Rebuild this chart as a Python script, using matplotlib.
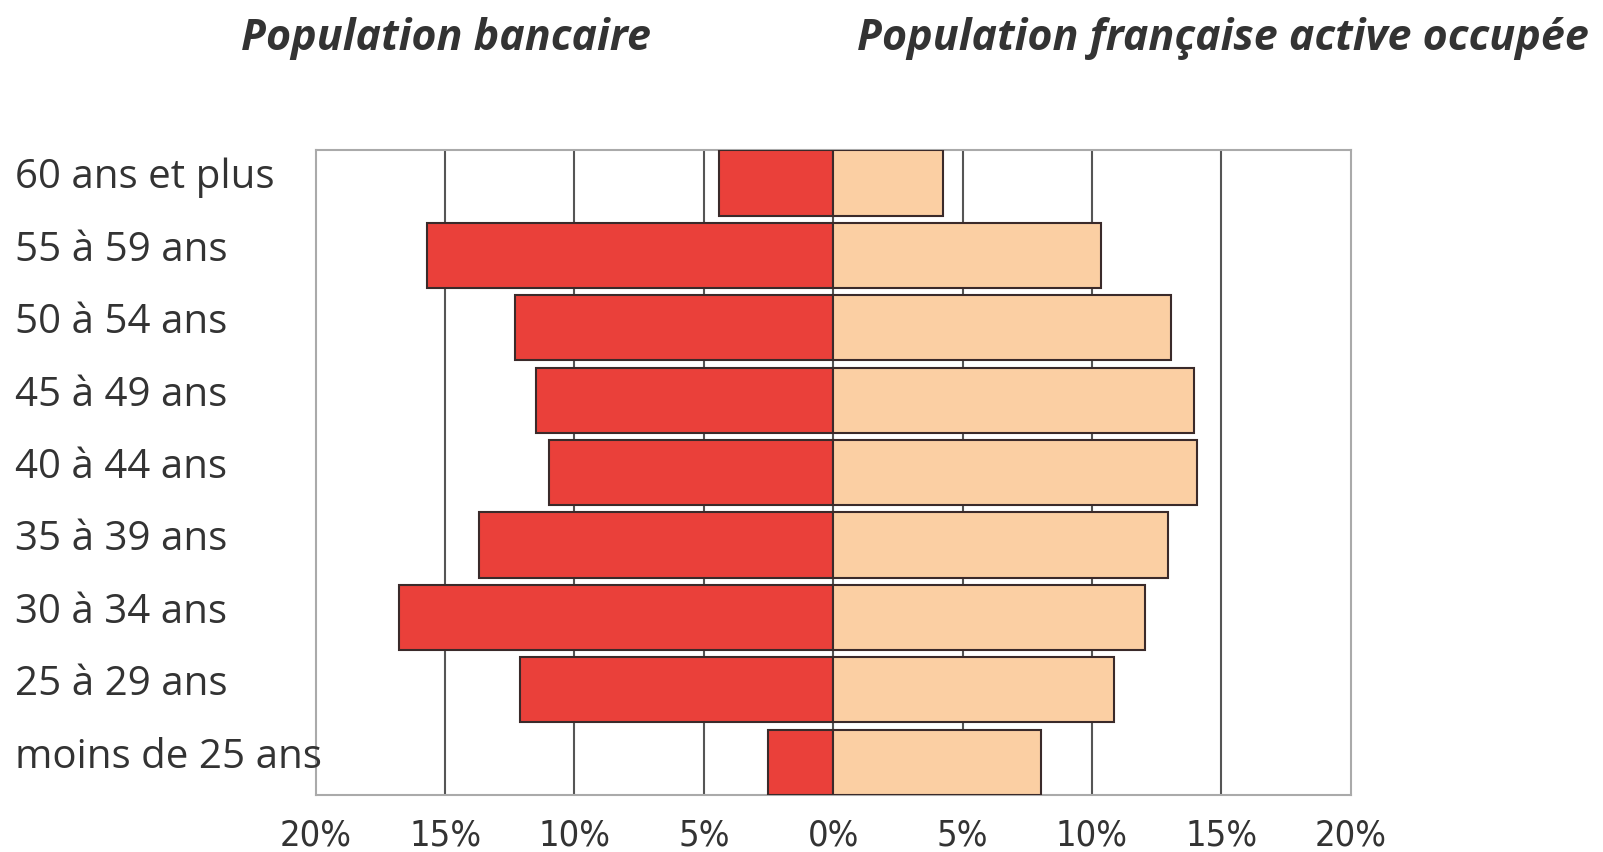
import numpy as np
import matplotlib
matplotlib.use('Agg')
from matplotlib import pyplot as plt
from matplotlib import transforms

# data, bottom to top
ages = ['moins de 25 ans', '25 à 29 ans', '30 à 34 ans', '35 à 39 ans', '40 à 44 ans',
        '45 à 49 ans', '50 à 54 ans', '55 à 59 ans', '60 ans et plus']
bancaire = [2.5, 12.1, 16.8, 13.7, 11.0, 11.5, 12.3, 15.7, 4.4]
francaise = [8.05, 10.85, 12.05, 12.95, 14.05, 13.95, 13.05, 10.35, 4.25]
xticks = [-20, -15, -10, -5, 0, 5, 10, 15, 20]
xticklabels = ['20%', '15%', '10%', '5%', '0%', '5%', '10%', '15%', '20%']

fig = plt.figure(figsize=(16.03, 8.53), dpi=100)
ax = fig.add_axes([0.197, 0.067, 0.6455, 0.7555])

y = np.arange(len(ages))
ax.barh(y, -np.array(bancaire), height=0.9, color='#EA403A', edgecolor='#3a2a2a', linewidth=1.5, zorder=3)
ax.barh(y, francaise, height=0.9, color='#FBCFA3', edgecolor='#3a2a2a', linewidth=1.5, zorder=3)

ax.set_xlim(-20, 20)
ax.set_ylim(-0.45, 8.45)
for xv in xticks[1:-1]:
    ax.axvline(xv, color='#555555', linewidth=1.5, zorder=1)

ax.set_xticks(xticks)
ax.set_xticklabels(xticklabels, family=['DejaVu Sans Condensed', 'Liberation Sans Narrow', 'DejaVu Sans'],
                   stretch='condensed', fontsize=26, color='#333333')
ax.tick_params(axis='x', length=0, pad=16)
ax.set_yticks([])
for s in ax.spines.values():
    s.set_color('#aaaaaa')
    s.set_linewidth(1.5)

# category labels, left aligned at the figure edge
trans = transforms.blended_transform_factory(fig.transFigure, ax.transData)
for yi, lab in zip(y, ages):
    ax.text(0.0094, yi + 0.08, lab, transform=trans, ha='left', va='center',
            fontsize=29, family='Open Sans', color='#333333', clip_on=False)

fig.text(0.278, 0.955, 'Population bancaire', ha='center', va='center',
         fontsize=31, family='Open Sans', weight='bold', style='italic', color='#333333')
fig.text(0.763, 0.955, 'Population française active occupée', ha='center', va='center',
         fontsize=31, family='Open Sans', weight='bold', style='italic', color='#333333')

fig.savefig('out.png', dpi=100, facecolor='white')
